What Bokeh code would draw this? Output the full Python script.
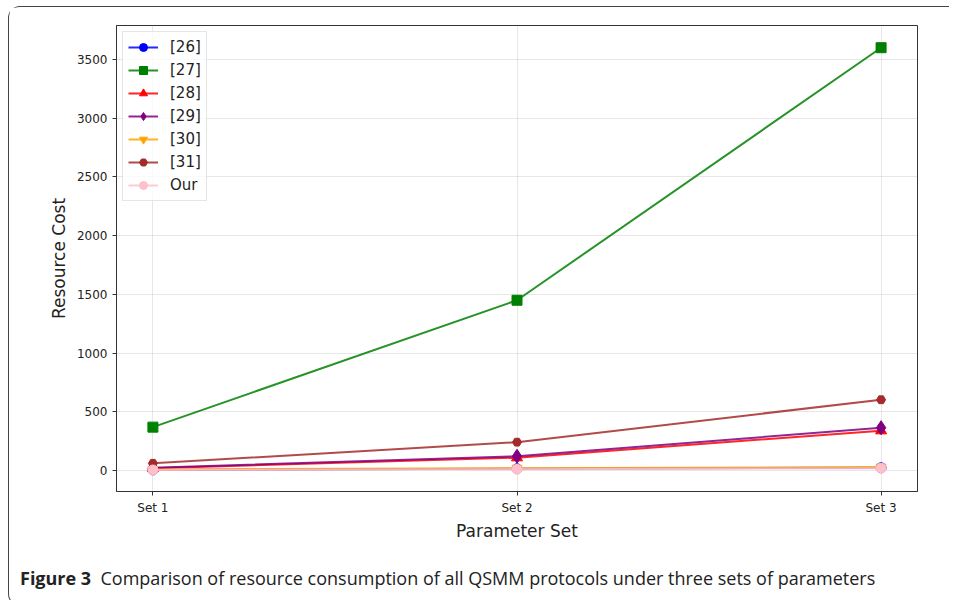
from bokeh.plotting import figure
from bokeh.models import FixedTicker, Range1d, Div
from bokeh.layouts import column
from bokeh.embed import file_html
from bokeh.resources import INLINE

sets = [1, 2, 3]
set_labels = ["Set 1", "Set 2", "Set 3"]
series_names = ["[26]", "[27]", "[28]", "[29]", "[30]", "[31]", "Our"]
v26 = [6, 16, 24]
v27 = [370, 1450, 3600]
v28 = [20, 110, 340]
v29 = [25, 122, 365]
v30 = [10, 20, 30]
v31 = [62, 242, 603]
v_our = [5, 12, 20]
y_ticks = [0, 500, 1000, 1500, 2000, 2500, 3000, 3500]

series = [v26, v27, v28, v29, v30, v31, v_our]
colors = ["#0000ff", "#008000", "#ff0000", "#800080", "#ffa500", "#a52a2a", "#ffc0cb"]
markers = ["circle", "square", "triangle", "diamond", "inverted_triangle", "hex", "circle"]
sizes = [10, 10, 11, 14, 10, 9, 10]

FONT = "DejaVu Sans"

p = figure(width=937, height=536, output_backend="svg", toolbar_location=None,
           x_range=Range1d(0.9, 3.1), y_range=Range1d(-178, 3789),
           min_border_left=107, min_border_right=29, min_border_top=18, min_border_bottom=50)

for name, vals, c, m, s in zip(series_names, series, colors, markers, sizes):
    p.line(sets, vals, line_color=c, line_width=2, line_alpha=0.85, legend_label=name)
    p.scatter(sets, vals, marker=m, size=s, fill_color=c, line_color=c, legend_label=name)

p.xaxis.ticker = FixedTicker(ticks=sets)
p.xaxis.major_label_overrides = {s: l for s, l in zip(sets, set_labels)}
p.yaxis.ticker = FixedTicker(ticks=y_ticks)
p.xaxis.axis_label = "Parameter Set"
p.yaxis.axis_label = "Resource Cost"
for ax in (p.xaxis, p.yaxis):
    ax.axis_label_text_font = FONT
    ax.axis_label_text_font_size = "17px"
    ax.axis_label_text_font_style = "normal"
    ax.axis_label_text_color = "#222222"
    ax.major_label_text_font = FONT
    ax.major_label_text_font_size = "12px"
    ax.major_label_text_color = "#222222"
    ax.major_tick_out = 4
    ax.major_tick_in = 0
    ax.minor_tick_line_color = None
    ax.axis_line_color = "#333333"
    ax.major_tick_line_color = "#333333"
p.xaxis.axis_label_standoff = 3
p.xaxis.major_label_standoff = 5
p.yaxis.axis_label_standoff = 5
p.yaxis.major_label_standoff = 5

p.outline_line_color = "#333333"
p.outline_line_width = 1
p.xgrid.grid_line_color = "#b0b0b0"
p.ygrid.grid_line_color = "#b0b0b0"
p.xgrid.grid_line_alpha = 0.3
p.ygrid.grid_line_alpha = 0.3
p.background_fill_color = "white"
p.border_fill_color = "white"

p.legend.location = "top_left"
p.legend.margin = 6
p.legend.padding = 5
p.legend.spacing = 3
p.legend.glyph_width = 30
p.legend.glyph_height = 20
p.legend.label_standoff = 12
p.legend.label_text_font = FONT
p.legend.label_text_font_size = "15px"
p.legend.label_text_color = "#222222"
p.legend.border_line_color = "#cccccc"
p.legend.background_fill_alpha = 0.8

caption = Div(
    text='<b>Figure 3</b>&nbsp; Comparison of resource consumption of all QSMM protocols under three sets of parameters',
    width=930, height=52,
    styles={"font-family": "Open Sans", "font-size": "18px", "color": "#222222",
            "padding-left": "6px", "padding-top": "18px", "white-space": "nowrap"})

layout = column(p, caption, spacing=0,
                styles={"border-top": "1.5px solid #444", "border-left": "1.5px solid #444",
                        "border-bottom": "1.5px solid #444", "border-radius": "12px 0 0 12px",
                        "margin": "6px 0 0 8px"})

open("out.html", "w").write(file_html(layout, INLINE))
